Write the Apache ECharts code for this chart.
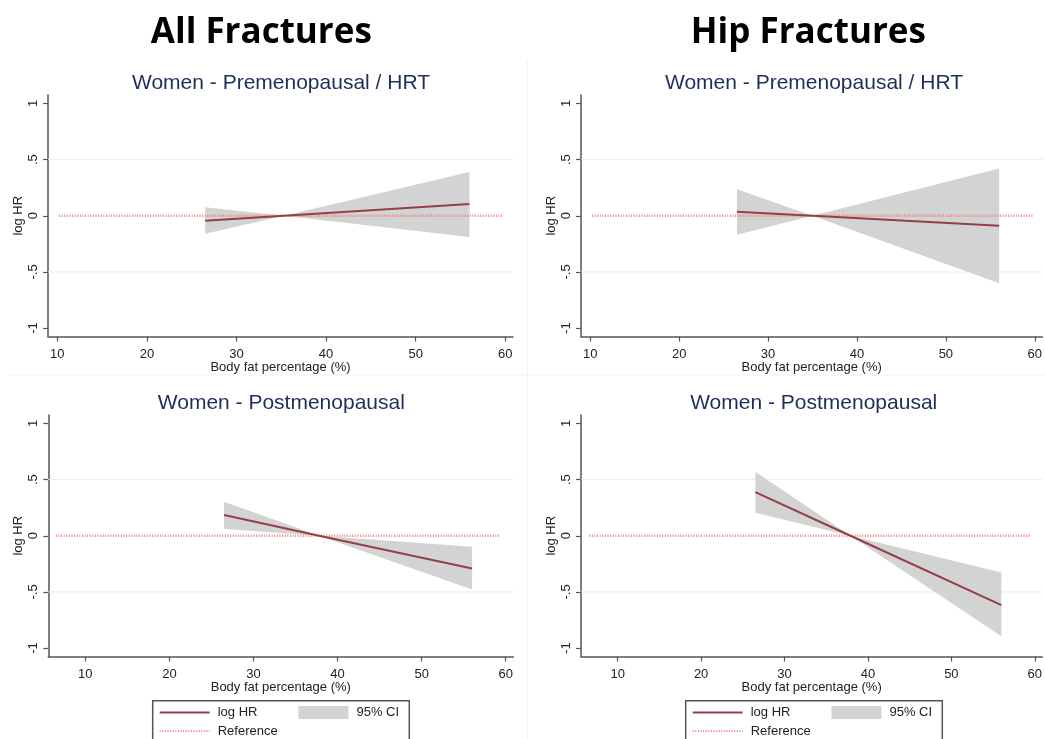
<!DOCTYPE html>
<html>
<head>
<meta charset="utf-8">
<script src="https://cdn.jsdelivr.net/npm/echarts@6/dist/echarts.min.js"></script>
<style>
  html, body { margin: 0; padding: 0; background: #ffffff; }
  #chart { width: 1045px; height: 739px; }
</style>
</head>
<body>
<div id="chart"></div>
<script>
// Column headers and panel titles
const columnHeaders = ['All Fractures', 'Hip Fractures'];
const panelTitles = [
  'Women - Premenopausal / HRT',
  'Women - Premenopausal / HRT',
  'Women - Postmenopausal',
  'Women - Postmenopausal'
];

// Axis ticks
const xTicks = [10, 20, 30, 40, 50, 60];
const yTicks = [-1, -0.5, 0, 0.5, 1];
const yTickLabels = ['-1', '-.5', '0', '.5', '1'];
const gridValues = [-0.5, 0.5];

// All fractures, premenopausal / HRT
const allPreX = [26.5, 35.3, 56];
const allPreLogHR = [-0.045, 0, 0.105];
const allPreLower = [-0.16, 0, -0.19];
const allPreUpper = [0.075, 0, 0.39];
const allPreRef = [10.2, 59.8];

// Hip fractures, premenopausal / HRT
const hipPreX = [26.5, 35.0, 56];
const hipPreLogHR = [0.036, 0, -0.089];
const hipPreLower = [-0.169, 0, -0.60];
const hipPreUpper = [0.237, 0, 0.421];
const hipPreRef = [10.2, 59.8];

// All fractures, postmenopausal
const allPostX = [26.5, 37.8, 56];
const allPostLogHR = [0.184, 0, -0.291];
const allPostLower = [0.059, 0, -0.478];
const allPostUpper = [0.303, 0, -0.098];
const allPostRef = [6.5, 59.3];

// Hip fractures, postmenopausal
const hipPostX = [26.5, 37.9, 56];
const hipPostLogHR = [0.389, 0, -0.618];
const hipPostLower = [0.205, 0, -0.894];
const hipPostUpper = [0.570, 0, -0.327];
const hipPostRef = [6.6, 59.4];

const panels = [
  { x: allPreX, hr: allPreLogHR, lo: allPreLower, up: allPreUpper, ref: allPreRef },
  { x: hipPreX, hr: hipPreLogHR, lo: hipPreLower, up: hipPreUpper, ref: hipPreRef },
  { x: allPostX, hr: allPostLogHR, lo: allPostLower, up: allPostUpper, ref: allPostRef },
  { x: hipPostX, hr: hipPostLogHR, lo: hipPostLower, up: hipPostUpper, ref: hipPostRef }
];

// Layout of the four plot regions
const layout = [
  { left: 48, top: 95, xMin: 8.96, xMax: 60.86 },
  { left: 581, top: 95, xMin: 8.96, xMax: 60.86 },
  { left: 48.3, top: 415, xMin: 5.6, xMax: 60.9 },
  { left: 581, top: 415, xMin: 5.6, xMax: 60.9 }
];
const plotW = 465, plotH = 241.5;
const yMin = -1.075, yMax = 1.075;
const titleCenters = [281, 814, 281.3, 813.7];
const titleTops = [73, 73, 393, 393];

const FONT = "'Liberation Sans', Arial, sans-serif";
const AXIS_COLOR = '#555555';
const TEXT_COLOR = '#222222';
const LINE_COLOR = '#963e48';
const CI_COLOR = '#d3d3d3';
const REF_COLOR = '#f37f7f';
const GRID_COLOR = '#e6eef3';

const grids = [], xAxes = [], yAxes = [], series = [];
const titles = [];

columnHeaders.forEach((t, i) => {
  titles.push({
    text: t, left: i === 0 ? 261.3 : 808.3, top: 16, textAlign: 'center', padding: 0,
    textStyle: { fontFamily: "'Open Sans', sans-serif", fontWeight: 'bold', fontSize: 35, color: '#000' }
  });
});

panels.forEach((p, i) => {
  const L = layout[i];
  grids.push({ left: L.left, top: L.top, width: plotW, height: plotH, containLabel: false });
  titles.push({
    text: panelTitles[i], left: titleCenters[i], top: titleTops[i], textAlign: 'center', padding: 0,
    textStyle: { fontFamily: FONT, fontWeight: 'normal', fontSize: 21, color: '#1e2d5c' }
  });
  xAxes.push({
    type: 'value', gridIndex: i, min: L.xMin, max: L.xMax,
    name: 'Body fat percentage (%)', nameLocation: 'middle', nameGap: 24,
    nameTextStyle: { fontFamily: FONT, fontSize: 13, color: TEXT_COLOR },
    axisLine: { show: true, onZero: false, lineStyle: { color: AXIS_COLOR, width: 1.5 } },
    axisTick: { show: true, length: 5, customValues: xTicks, lineStyle: { color: AXIS_COLOR, width: 1.2 } },
    axisLabel: { customValues: xTicks, margin: 11, fontFamily: FONT, fontSize: 13, color: TEXT_COLOR },
    splitLine: { show: false }
  });
  yAxes.push({
    type: 'value', gridIndex: i, min: yMin, max: yMax,
    name: 'log HR', nameLocation: 'middle', nameGap: 23, nameRotate: 90,
    nameTextStyle: { fontFamily: FONT, fontSize: 13, color: TEXT_COLOR },
    axisLine: { show: true, onZero: false, lineStyle: { color: AXIS_COLOR, width: 1.5 } },
    axisTick: { show: true, length: 5, customValues: yTicks, lineStyle: { color: AXIS_COLOR, width: 1.2 } },
    axisLabel: {
      customValues: yTicks, rotate: 90, margin: 8, fontFamily: FONT, fontSize: 13, color: TEXT_COLOR,
      formatter: v => yTickLabels[yTicks.findIndex(t => Math.abs(t - v) < 1e-9)]
    },
    splitLine: { show: false }
  });

  // horizontal gridlines across the plot region
  gridValues.forEach(g => {
    series.push({
      type: 'line', xAxisIndex: i, yAxisIndex: i, z: 1, silent: true, symbol: 'none',
      data: [[L.xMin, g], [L.xMax, g]],
      lineStyle: { color: GRID_COLOR, width: 1 }
    });
  });

  // 95% CI band
  series.push({
    type: 'custom', name: '95% CI', xAxisIndex: i, yAxisIndex: i, z: 2, silent: true,
    itemStyle: { color: CI_COLOR },
    data: p.x.map((v, k) => [v, p.lo[k], p.up[k]]),
    encode: { x: 0, y: [1, 2] },
    renderItem: (params, api) => {
      if (params.dataIndex !== 0) return null;
      const pts = [];
      for (let k = 0; k < p.x.length; k++) pts.push(api.coord([p.x[k], p.up[k]]));
      for (let k = p.x.length - 1; k >= 0; k--) pts.push(api.coord([p.x[k], p.lo[k]]));
      return { type: 'polygon', shape: { points: pts }, style: { fill: CI_COLOR } };
    }
  });

  // reference line at zero
  series.push({
    type: 'line', name: 'Reference', xAxisIndex: i, yAxisIndex: i, z: 3, silent: true,
    symbol: 'none', data: p.ref.map(v => [v, 0]),
    itemStyle: { color: REF_COLOR },
    lineStyle: { color: REF_COLOR, width: 2.5, type: [1, 1.6] }
  });

  // fitted log HR
  series.push({
    type: 'line', name: 'log HR', xAxisIndex: i, yAxisIndex: i, z: 4, silent: true,
    symbol: 'none', data: p.x.map((v, k) => [v, p.hr[k]]),
    itemStyle: { color: LINE_COLOR },
    lineStyle: { color: LINE_COLOR, width: 2 }
  });
});

// legends: two rows under each column
const legendLefts = [158.7, 691.7];
const legends = [];
legendLefts.forEach(lx => {
  const common = {
    orient: 'horizontal', left: lx, padding: 0, itemWidth: 50, itemHeight: 13, selectedMode: false,
    itemStyle: { opacity: 0 },
    textStyle: { fontFamily: FONT, fontSize: 13, color: TEXT_COLOR, padding: [0, 0, 0, 3] }
  };
  legends.push(Object.assign({}, common, {
    top: 706, itemGap: 41,
    data: [{ name: 'log HR' }, { name: '95% CI', icon: 'rect', itemStyle: { opacity: 1, color: CI_COLOR } }]
  }));
  legends.push(Object.assign({}, common, {
    top: 724.5, itemGap: 41,
    data: [{ name: 'Reference' }]
  }));
});

const chart = echarts.init(document.getElementById('chart'), null, { renderer: 'canvas' });
chart.setOption({
  animation: false,
  backgroundColor: '#ffffff',
  title: titles,
  grid: grids,
  xAxis: xAxes,
  yAxis: yAxes,
  legend: legends,
  series: series,
  graphic: [
    { type: 'line', silent: true, z: -1, shape: { x1: 527.5, y1: 60, x2: 527.5, y2: 739 }, style: { stroke: '#f3f3f3', lineWidth: 1 } },
    { type: 'line', silent: true, z: -1, shape: { x1: 8, y1: 375, x2: 1045, y2: 375 }, style: { stroke: '#f3f3f3', lineWidth: 1 } },
    { type: 'rect', silent: true, shape: { x: 152.7, y: 700.7, width: 256.6, height: 60 }, style: { fill: 'none', stroke: '#555', lineWidth: 1.5 } },
    { type: 'rect', silent: true, shape: { x: 685.7, y: 700.7, width: 256.6, height: 60 }, style: { fill: 'none', stroke: '#555', lineWidth: 1.5 } }
  ]
});
</script>
</body>
</html>
